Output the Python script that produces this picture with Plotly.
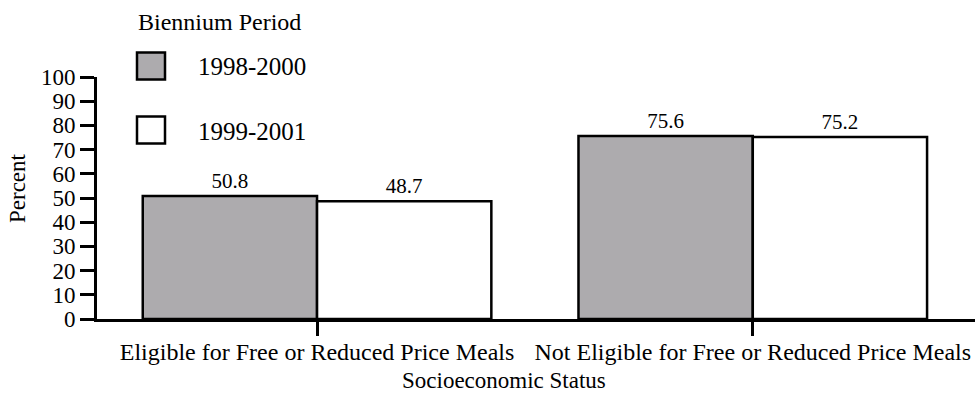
import plotly.graph_objects as go

categories = ["Eligible for Free or Reduced Price Meals", "Not Eligible for Free or Reduced Price Meals"]
series_names = ["1998-2000", "1999-2001"]
values_1998_2000 = [50.8, 75.6]
values_1999_2001 = [48.7, 75.2]
y_ticks = [0, 10, 20, 30, 40, 50, 60, 70, 80, 90, 100]

FONT = "Liberation Serif"
GRAY = "#adabae"

W, H = 975, 394
L, R, T, B = 97, 0, 77, 75
pw, ph = W - L - R, H - T - B

def px(x):
    return (x - L) / pw

def py(y):
    return (H - B - y) / ph

fig = go.Figure()
fig.add_trace(go.Bar(
    x=categories, y=values_1998_2000, name=series_names[0],
    marker=dict(color=GRAY, line=dict(color="black", width=2.5)),
    text=[f"{v:.1f}" for v in values_1998_2000], textposition="outside",
    textfont=dict(family=FONT, size=21, color="black"), cliponaxis=False,
))
fig.add_trace(go.Bar(
    x=categories, y=values_1999_2001, name=series_names[1],
    marker=dict(color="white", line=dict(color="black", width=2.5)),
    text=[f"{v:.1f}" for v in values_1999_2001], textposition="outside",
    textfont=dict(family=FONT, size=21, color="black"), cliponaxis=False,
))

fig.update_layout(
    template="none",
    width=W, height=H, barmode="group", bargap=0.2, bargroupgap=0,
    margin=dict(l=L, r=R, t=T, b=B, pad=0, autoexpand=False),
    plot_bgcolor="white", paper_bgcolor="white", showlegend=False,
    font=dict(family=FONT, size=23, color="black"),
)
fig.update_xaxes(
    range=[-0.505, 1.51], showline=True, linecolor="black", linewidth=3,
    ticks="outside", ticklen=14, tickwidth=3, tickcolor="black",
    tickfont=dict(family=FONT, size=24), showgrid=False, zeroline=False,
    automargin=False, ticklabelstandoff=-5,
)
fig.update_yaxes(
    range=[0, 100], tickvals=y_ticks, showline=True, linecolor="black", linewidth=3,
    ticks="outside", ticklen=14, tickwidth=3, tickcolor="black",
    tickfont=dict(family=FONT, size=23), showgrid=False, zeroline=False,
    automargin=False,
)

# Axis titles
fig.add_annotation(text="Socioeconomic Status", xref="paper", yref="paper",
                   x=px(504), y=py(394), showarrow=False,
                   font=dict(family=FONT, size=23), xanchor="center", yanchor="bottom",
                   borderpad=0)
fig.add_annotation(text="Percent", xref="paper", yref="paper",
                   x=px(17), y=py(188), showarrow=False, textangle=-90,
                   font=dict(family=FONT, size=23), xanchor="center", yanchor="middle")

# Legend (drawn manually to match the large swatches)
fig.add_annotation(text="Biennium Period", xref="paper", yref="paper",
                   x=px(136), y=py(22), showarrow=False, xanchor="left", yanchor="middle",
                   font=dict(family=FONT, size=24))
legend_rows = [(66, GRAY), (130, "white")]
for (cy, col), name in zip(legend_rows, series_names):
    fig.add_shape(type="rect", xref="paper", yref="paper",
                  x0=px(137), x1=px(165), y0=py(cy + 13.5), y1=py(cy - 13.5),
                  fillcolor=col, line=dict(color="black", width=2.5))
    fig.add_annotation(text=name, xref="paper", yref="paper",
                       x=px(196), y=py(cy + 1), showarrow=False, xanchor="left", yanchor="middle",
                       font=dict(family=FONT, size=25))

fig.write_html("out.html", config={"displayModeBar": False},
               post_script="document.body.style.margin='0';document.body.style.overflow='hidden';")
